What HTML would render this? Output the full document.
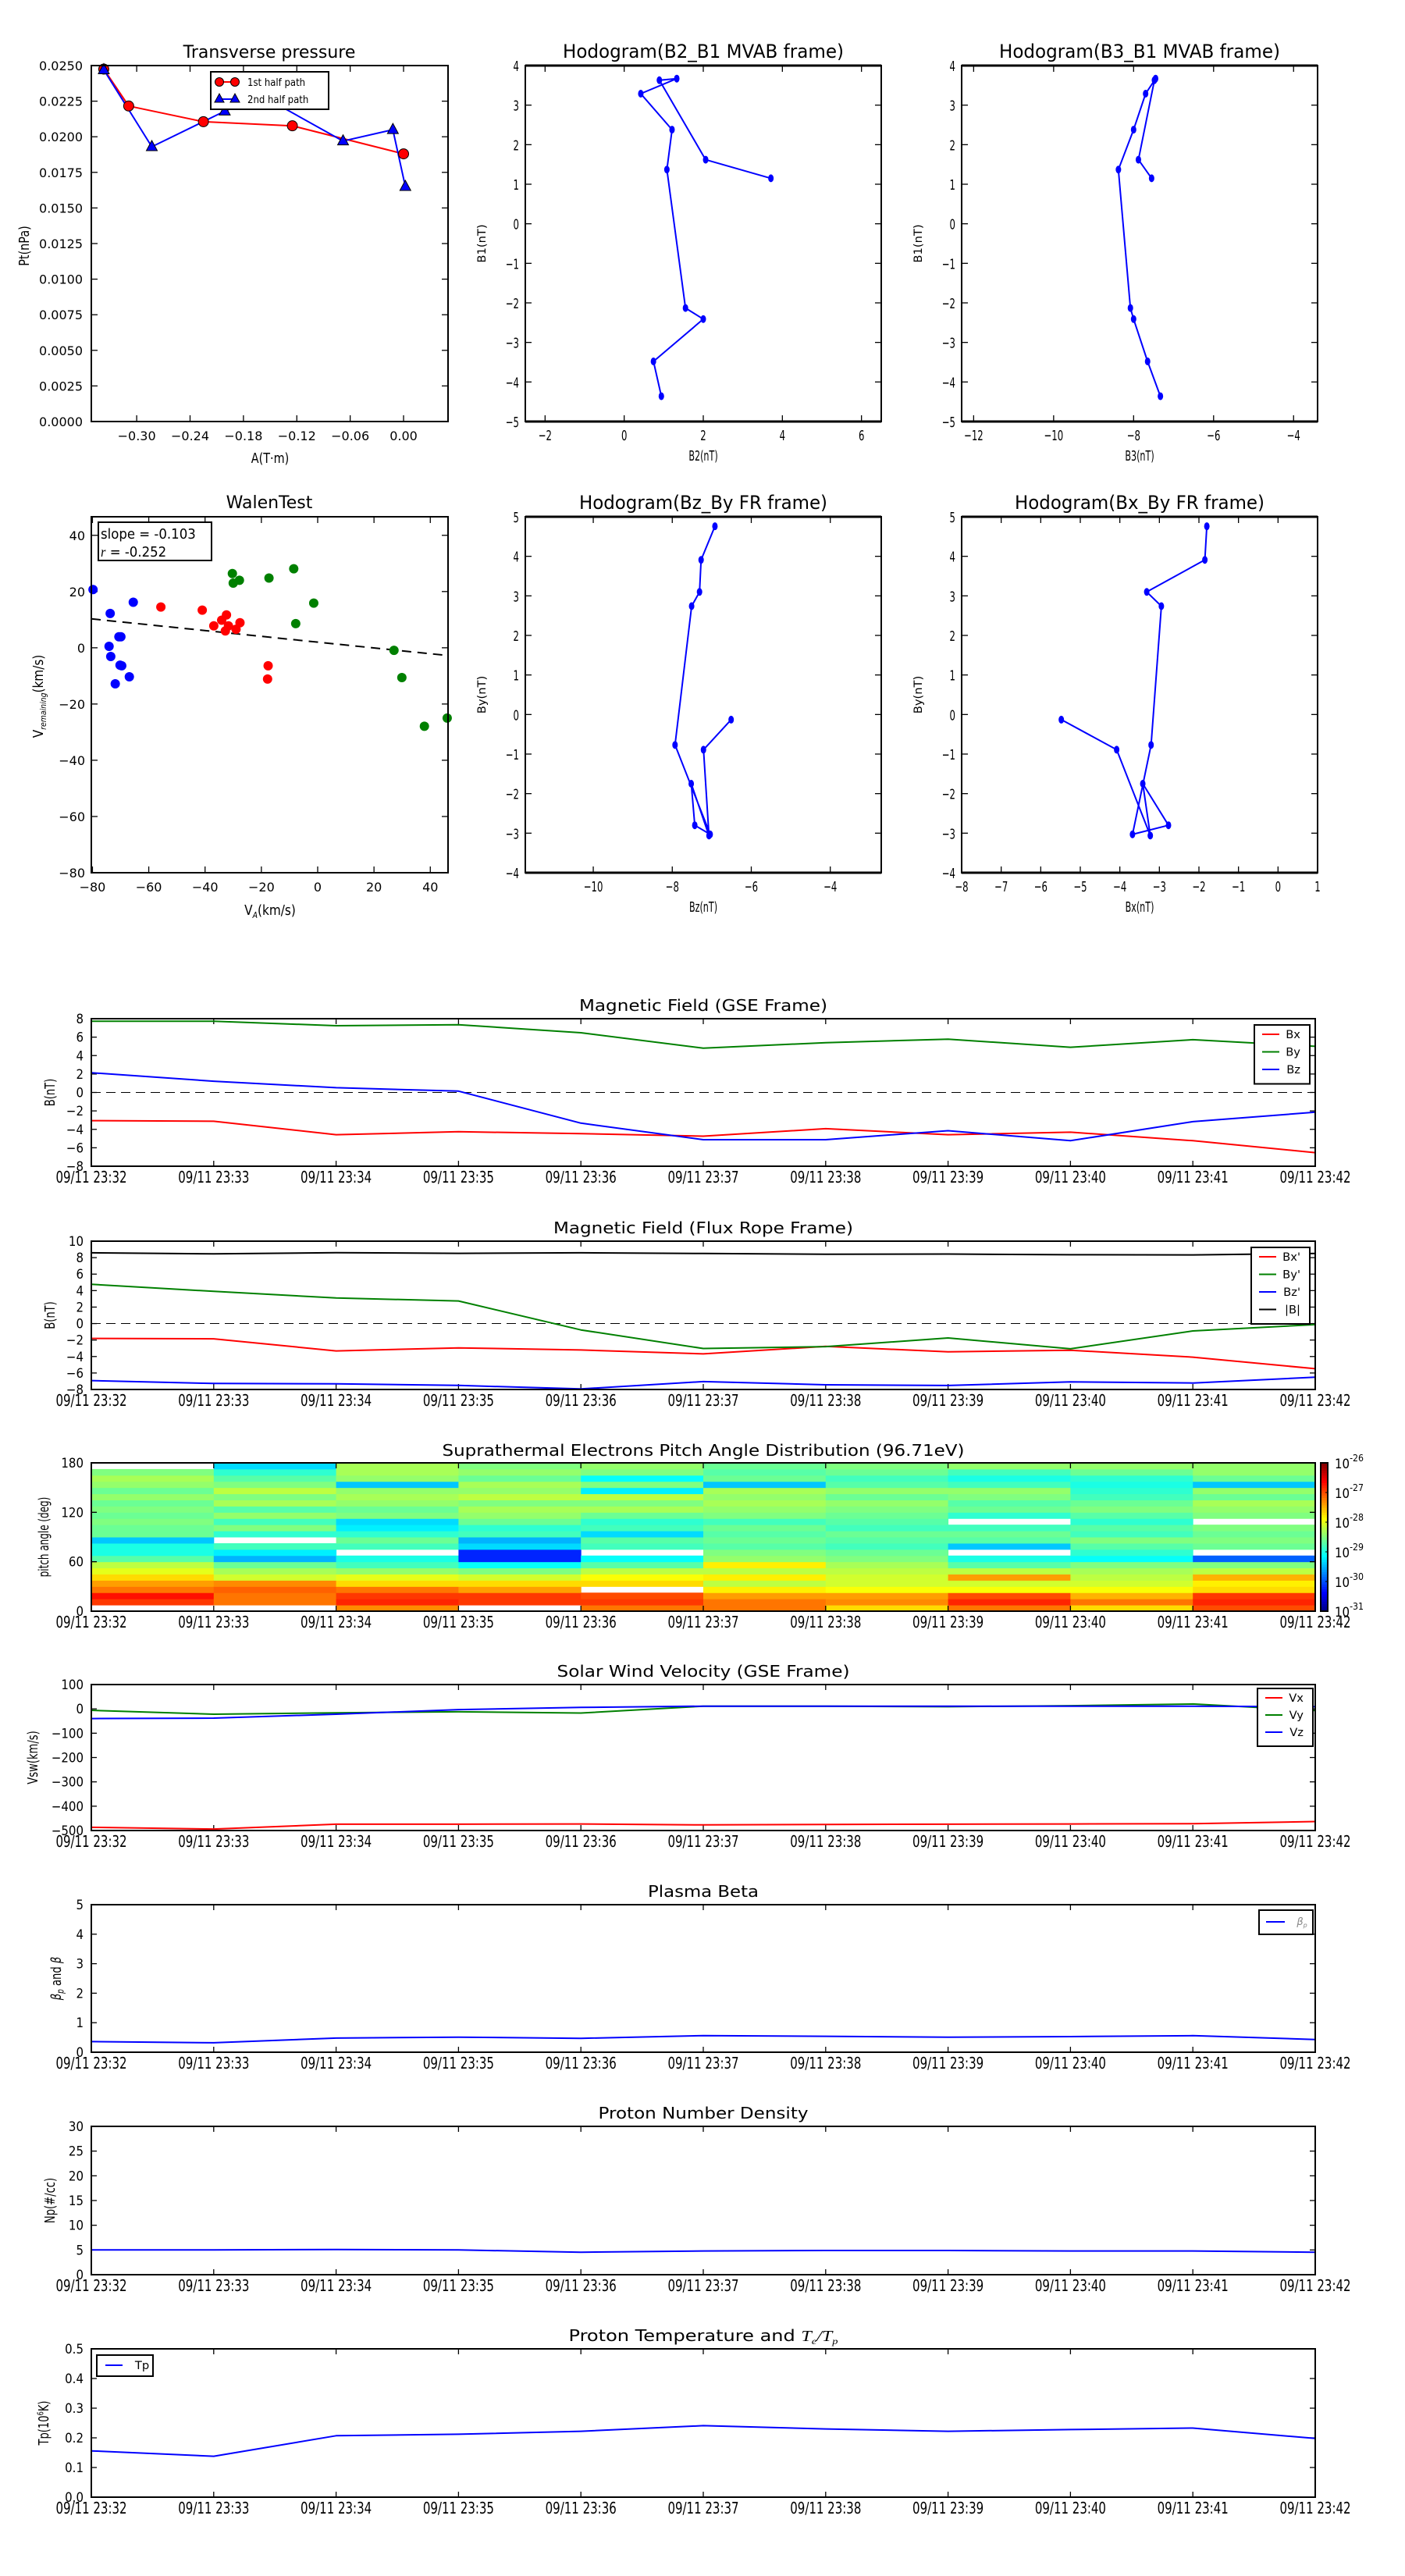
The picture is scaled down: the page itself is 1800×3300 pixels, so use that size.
<!DOCTYPE html>
<html><head><meta charset="utf-8"><style>
html,body{margin:0;padding:0;background:#fff;}
svg{display:block;font-family:"DejaVu Sans","Liberation Sans",sans-serif;}
</style></head><body>
<svg id="chart" xmlns="http://www.w3.org/2000/svg" width="1800" height="3300" viewBox="0 0 1800 3300"></svg>
<script>
// ---------------- data ----------------
const timeLabels=['09/11 23:32','09/11 23:33','09/11 23:34','09/11 23:35','09/11 23:36','09/11 23:37','09/11 23:38','09/11 23:39','09/11 23:40','09/11 23:41','09/11 23:42'];
const tpHalf1A=[-0.337,-0.309,-0.225,-0.125,0.0];
const tpHalf1P=[0.02475,0.02216,0.02106,0.02077,0.0188];
const tpHalf2A=[-0.337,-0.283,-0.201,-0.160,-0.068,-0.012,0.002];
const tpHalf2P=[0.0247,0.0193,0.0218,0.0229,0.0197,0.0205,0.0165];
const mvB1=[1.15,1.62,3.63,3.67,3.29,2.38,1.37,-2.13,-2.41,-3.48,-4.36];
const mvB2=[3.71,2.06,0.89,1.33,0.42,1.21,1.08,1.55,2.00,0.74,0.94];
const mvB3=[-7.55,-7.88,-7.48,-7.45,-7.70,-8.00,-8.38,-8.08,-8.00,-7.65,-7.33];
const walenBlueX=[-79.8,-65.5,-73.7,-69.9,-70.6,-74.1,-73.5,-70.2,-69.6,-66.9,-71.9];
const walenBlueY=[20.7,16.2,12.2,3.9,3.9,0.5,-3.1,-6.2,-6.4,-10.3,-12.8];
const walenRedX=[-55.7,-41.0,-32.4,-34.1,-36.9,-31.7,-27.6,-29.0,-32.8,-17.6,-17.8];
const walenRedY=[14.5,13.4,11.7,9.8,7.8,7.8,8.9,6.6,6.0,-6.4,-11.1];
const walenGreenX=[-30.3,-30.0,-27.8,-17.3,-8.5,-1.4,-7.8,27.1,29.9,37.9,46.0];
const walenGreenY=[26.4,23.0,24.0,24.8,28.1,15.9,8.6,-0.9,-10.6,-27.9,-25.0];
const walenSlope=-0.103;
const walenIntercept=2.0;
const gseBx=[-3.06,-3.12,-4.58,-4.26,-4.47,-4.74,-3.93,-4.58,-4.31,-5.23,-6.53];
const gseBy=[7.73,7.73,7.24,7.35,6.48,4.80,5.40,5.78,4.90,5.72,5.00];
const gseBz=[2.14,1.22,0.52,0.14,-3.33,-5.12,-5.12,-4.15,-5.23,-3.17,-2.14];
const frBx=[-1.80,-1.85,-3.32,-2.95,-3.21,-3.68,-2.77,-3.42,-3.23,-4.08,-5.48];
const frBy=[4.76,3.91,3.10,2.74,-0.77,-3.03,-2.80,-1.75,-3.06,-0.89,-0.13];
const frBz=[-6.92,-7.27,-7.31,-7.51,-7.93,-7.04,-7.43,-7.52,-7.07,-7.21,-6.51];
const frBmag=[8.59,8.46,8.61,8.52,8.59,8.50,8.41,8.44,8.35,8.33,8.51];
const vx=[-487,-494,-474,-474,-473,-477,-475,-474,-473,-472,-463];
const vy=[-6,-22,-16,-12,-17,11,11,9,13,20,-7];
const vz=[-40,-38,-22,-3,6,11,11,11,11,11,9];
const betaP=[0.36,0.32,0.48,0.51,0.47,0.56,0.54,0.51,0.53,0.56,0.43];
const np=[5.0,5.0,5.1,5.0,4.55,4.8,4.9,4.9,4.8,4.8,4.55];
const tp=[0.156,0.138,0.207,0.212,0.222,0.241,0.23,0.222,0.228,0.233,0.198];
// pitch angle log10 flux, each column = one minute, rows from 0deg to 180deg (7.5deg bins)
const padCol0=[null,-26.7,-26.5,-27.0,-27.2,-27.5,-27.8,-28.0,-28.5,-28.8,-28.8,-29.2,-28.4,-28.4,-28.3,-28.4,-28.3,-28.4,-28.2,-28.4,-28.2,-28.1,-28.3,null];
const padCol1=[null,-27.0,-27.0,-26.9,-27.1,-27.9,-28.1,-28.4,-29.3,-29.0,-28.6,null,-28.7,-28.3,-28.6,-28.2,-28.5,-28.1,-28.3,-28.0,-28.3,-28.5,-28.7,-29.1];
const padCol2=[-27.1,-26.6,-26.7,-27.0,-27.5,-27.8,-28.2,-28.6,-28.8,null,-28.6,-28.4,-28.7,-29.0,-29.1,-28.3,-28.4,-28.2,-28.1,-28.2,-29.2,-28.2,-28.1,-28.1];
const padCol3=[null,-26.7,-26.7,-27.2,-27.5,-27.9,-28.3,-28.9,-30.0,-30.0,-29.1,-29.3,-28.6,-28.7,-28.4,-28.2,-28.1,-28.3,-28.0,-28.2,-28.1,-28.4,-28.2,-28.3];
const padCol4=[-27.0,-26.7,-26.8,null,-27.5,-27.7,-28.0,-28.5,-28.9,null,-28.6,-28.5,-29.1,-28.6,-28.7,-28.4,-28.1,-28.3,-28.0,-29.0,-28.3,-28.9,-28.3,-28.2];
const padCol5=[-27.0,-27.0,-27.2,-27.6,-28.0,-27.6,-28.0,-27.6,-28.2,-28.3,-28.5,-28.4,-28.5,-28.4,-28.6,-28.3,-28.2,-28.1,-28.2,-28.1,-29.2,-28.4,-28.5,-28.4];
const padCol6=[-27.5,-27.1,-27.2,-27.7,-27.9,-27.9,-28.0,-28.1,-28.3,-28.4,-28.6,-28.5,-28.4,-28.6,-28.5,-28.4,-28.3,-28.2,-28.4,-28.2,-28.5,-28.6,-28.4,-28.3];
const padCol7=[-27.0,-26.6,-26.8,-27.7,-27.9,-27.2,-28.0,-28.5,-28.8,null,-29.2,-28.5,-28.4,-28.6,null,-28.7,-28.4,-28.5,-28.3,-28.2,-28.6,-28.8,-28.6,-28.2];
const padCol8=[-27.5,-27.0,-27.3,-27.7,-27.9,-28.0,-28.1,-28.3,-28.9,-28.7,-28.5,-28.3,-28.6,-28.5,-28.7,-28.5,-28.3,-28.4,-28.6,-28.7,-28.8,-28.7,-28.4,-28.2];
const padCol9=[-26.8,-26.6,-26.7,-27.5,-27.6,-27.3,-28.0,-28.3,-29.7,null,-28.4,-28.3,-28.4,-28.3,null,-28.3,-28.2,-28.1,-28.4,-28.2,-29.2,-28.4,-28.2,-28.2];
const padColumns=[padCol0,padCol1,padCol2,padCol3,padCol4,padCol5,padCol6,padCol7,padCol8,padCol9];
const cbarTicks=[-26,-27,-28,-29,-30,-31];

// ---------------- helpers ----------------
const NS='http://www.w3.org/2000/svg';
const svg=document.getElementById('chart');
function mk(tag,attrs,name,inter,parent){
  const e=document.createElementNS(NS,tag);
  for(const k in attrs) e.setAttribute(k,attrs[k]);
  
  
  (parent||svg).appendChild(e);
  return e;
}
function lin(d0,d1,r0,r1){return v=>r0+(v-d0)/(d1-d0)*(r1-r0);}
function T(x,y,html,o){
  o=Object.assign({size:16,anchor:'middle',sx:1,sy:1,rot:0,fill:'#000',name:'label',style:'normal'},o||{});
  const e=mk('text',{x:0,y:0,'font-size':o.size,'text-anchor':o.anchor,fill:o.fill,'font-style':o.style,
    transform:`translate(${x},${y}) rotate(${o.rot}) scale(${o.sx},${o.sy})`},o.name,false);
  if(o.tl){e.setAttribute('textLength',o.tl);e.setAttribute('lengthAdjust','spacingAndGlyphs');}
  e.innerHTML=html;
  return e;
}
function line(x1,y1,x2,y2,stroke,w,name,dash){
  const a={x1,y1,x2,y2,stroke,'stroke-width':w};
  if(dash)a['stroke-dasharray']=dash;
  return mk('line',a,name,false);
}
function poly(xs,ys,sx,sy,color,w,name,dash){
  const pts=xs.map((v,i)=>sx(v).toFixed(1)+','+sy(ys[i]).toFixed(1)).join(' ');
  const a={points:pts,fill:'none',stroke:color,'stroke-width':w,'stroke-linejoin':'round'};
  if(dash)a['stroke-dasharray']=dash;
  return mk('polyline',a,name,false);
}
function frame(x0,y0,x1,y1,name,w){
  return mk('rect',{x:x0,y:y0,width:x1-x0,height:y1-y0,fill:'none',stroke:'#000','stroke-width':w||2},name,false);
}
function ticksX(pxs,y0,y1,len){pxs.forEach(p=>{line(p,y1,p,y1-len,'#000',1.3,'x-tick');line(p,y0,p,y0+len,'#000',1.3,'x-tick-top');});}
function ticksY(pys,x0,x1,len){pys.forEach(p=>{line(x0,p,x0+len,p,'#000',1.3,'y-tick');line(x1,p,x1-len,p,'#000',1.3,'y-tick-right');});}
const MINUS='\u2212';
function fmt(v,d){const s=Math.abs(v).toFixed(d);return (v<0?MINUS:'')+s;}
function jet(v){
  v=Math.max(0,Math.min(1,v));
  const c=x=>Math.round(255*Math.max(0,Math.min(1,1.5-Math.abs(x))));
  return `rgb(${c(4*v-3)},${c(4*v-2)},${c(4*v-1)})`;
}

// ---------------- Transverse pressure ----------------
(function(){
  const x0=117,x1=574,y0=84,y1=540;
  const sx=lin(-0.351,0.05,x0,x1), sy=lin(0,0.025,y1,y0);
  T(345,74,'Transverse pressure',{size:22,name:'transverse-pressure-title'});
  const xt=[-0.30,-0.24,-0.18,-0.12,-0.06,0.0];
  ticksX(xt.map(sx),y0,y1,8);
  xt.forEach(v=>T(sx(v),564,fmt(v,2),{size:16,name:'x-tick-label'}));
  const yt=[0,0.0025,0.005,0.0075,0.01,0.0125,0.015,0.0175,0.02,0.0225,0.025];
  ticksY(yt.map(sy),x0,x1,8);
  yt.forEach(v=>T(106,sy(v)+6,v.toFixed(4),{size:16,anchor:'end',name:'y-tick-label'}));
  T(346,593,'A(T·m)',{size:18,sx:0.8,name:'x-axis-title'});
  T(37,315,'Pt(nPa)',{size:18,rot:-90,sx:0.8,name:'y-axis-title'});
  poly(tpHalf1A,tpHalf1P,sx,sy,'#f00',2,'first-half-line');
  poly(tpHalf2A,tpHalf2P,sx,sy,'#00f',2,'second-half-line');
  tpHalf1A.forEach((a,i)=>mk('circle',{cx:sx(a),cy:sy(tpHalf1P[i]),r:6.5,fill:'#f00',stroke:'#000','stroke-width':1},'first-half-marker',false));
  tpHalf2A.forEach((a,i)=>{const cx=sx(a),cy=sy(tpHalf2P[i]);
    mk('polygon',{points:`${cx},${cy-8} ${cx-7},${cy+5} ${cx+7},${cy+5}`,fill:'#00f',stroke:'#000','stroke-width':1},'second-half-marker',false);});
  const lg=mk('g',{},'legend',false);
  mk('rect',{x:270,y:92,width:151,height:48,fill:'#fff',stroke:'#000','stroke-width':2},'legend-box',false,lg);
  line(281,105,301,105,'#f00',2,'legend-line-first');
  mk('circle',{cx:281,cy:105,r:5.5,fill:'#f00',stroke:'#000','stroke-width':1},'legend-marker-first',false);
  mk('circle',{cx:301,cy:105,r:5.5,fill:'#f00',stroke:'#000','stroke-width':1},'legend-marker-first',false);
  T(317,110,'1st half path',{size:13,anchor:'start',sx:0.9,name:'legend-label-first'});
  line(281,127,301,127,'#00f',2,'legend-line-second');
  [281,301].forEach(cx=>mk('polygon',{points:`${cx},${120} ${cx-6},${131} ${cx+6},${131}`,fill:'#00f',stroke:'#000','stroke-width':1},'legend-marker-second',false));
  T(317,132,'2nd half path',{size:13,anchor:'start',sx:0.9,name:'legend-label-second'});
  frame(x0,y0,x1,y1,'transverse-pressure-axes',2);
})();

// ---------------- hodogram helper ----------------
function hodo(o){
  const {x0,x1,y0,y1,xlim,ylim,xt,yt,xs,ys,title,titleW,xlab,ylab,name}=o;
  const sx=lin(xlim[0],xlim[1],x0,x1), sy=lin(ylim[0],ylim[1],y1,y0);
  T((x0+x1)/2,y0-10,title,{size:24,tl:titleW,name:name+'-title'});
  ticksX(xt.map(sx),y0,y1,8);
  xt.forEach(v=>T(sx(v),y1+24,fmt(v,0),{size:18,sx:0.65,name:'x-tick-label'}));
  ticksY(yt.map(sy),x0,x1,8);
  yt.forEach(v=>T(x0-8,sy(v)+7,fmt(v,0),{size:18,sx:0.65,anchor:'end',name:'y-tick-label'}));
  T((x0+x1)/2,y1+50,xlab,{size:18,sx:0.62,name:name+'-x-axis-title'});
  T(x0-51,(y0+y1)/2,ylab,{size:14,rot:-90,sx:1.05,name:name+'-y-axis-title'});
  poly(xs,ys,sx,sy,'#00f',2,name+'-path');
  xs.forEach((v,i)=>mk('ellipse',{cx:sx(v),cy:sy(ys[i]),rx:3.5,ry:5,fill:'#00f'},name+'-point',false));
  mk('rect',{x:x0,y:y0,width:x1-x0,height:y1-y0,fill:'none',stroke:'#000','stroke-width':2},name+'-axes',false);
  line(x0,y0,x1,y0,'#000',3,name+'-top-spine');
  line(x0,y1,x1,y1,'#000',3,name+'-bottom-spine');
}
hodo({x0:673,x1:1129,y0:84,y1:540,xlim:[-2.5,6.5],ylim:[-5,4],xt:[-2,0,2,4,6],yt:[-5,-4,-3,-2,-1,0,1,2,3,4],
  xs:mvB2,ys:mvB1,title:'Hodogram(B2_B1 MVAB frame)',titleW:360,xlab:'B2(nT)',ylab:'B1(nT)',name:'hodogram-b2-b1'});
hodo({x0:1232,x1:1688,y0:84,y1:540,xlim:[-12.3,-3.4],ylim:[-5,4],xt:[-12,-10,-8,-6,-4],yt:[-5,-4,-3,-2,-1,0,1,2,3,4],
  xs:mvB3,ys:mvB1,title:'Hodogram(B3_B1 MVAB frame)',titleW:360,xlab:'B3(nT)',ylab:'B1(nT)',name:'hodogram-b3-b1'});
hodo({x0:673,x1:1129,y0:662,y1:1118,xlim:[-11.72,-2.71],ylim:[-4,5],xt:[-10,-8,-6,-4],yt:[-4,-3,-2,-1,0,1,2,3,4,5],
  xs:frBz,ys:frBy,title:'Hodogram(Bz_By FR frame)',titleW:318,xlab:'Bz(nT)',ylab:'By(nT)',name:'hodogram-bz-by'});
hodo({x0:1232,x1:1688,y0:662,y1:1118,xlim:[-8,1],ylim:[-4,5],xt:[-8,-7,-6,-5,-4,-3,-2,-1,0,1],yt:[-4,-3,-2,-1,0,1,2,3,4,5],
  xs:frBx,ys:frBy,title:'Hodogram(Bx_By FR frame)',titleW:320,xlab:'Bx(nT)',ylab:'By(nT)',name:'hodogram-bx-by'});

// ---------------- Walen test ----------------
(function(){
  const x0=117,x1=574,y0=662,y1=1118;
  const sx=lin(-80.4,46.3,x0,x1), sy=lin(-80,46.6,y1,y0);
  T(345,651,'WalenTest',{size:22,name:'walen-test-title'});
  const xt=[-80,-60,-40,-20,0,20,40];
  ticksX(xt.map(sx),y0,y1,8);
  xt.forEach(v=>T(sx(v),y1+24,fmt(v,0),{size:16,name:'x-tick-label'}));
  const yt=[-80,-60,-40,-20,0,20,40];
  ticksY(yt.map(sy),x0,x1,8);
  yt.forEach(v=>T(109,sy(v)+6,fmt(v,0),{size:16,anchor:'end',name:'y-tick-label'}));
  T(346,1172,'V<tspan font-size="11" font-style="italic" dy="4">A</tspan><tspan dy="-4">(km/s)</tspan>',{size:18,sx:0.85,name:'x-axis-title'});
  T(55,892,'V<tspan font-size="11" font-style="italic" dy="4">remaining</tspan><tspan dy="-4">(km/s)</tspan>',{size:18,rot:-90,sx:0.85,name:'y-axis-title'});
  const fx=[-80.4,46.3];
  poly(fx,fx.map(v=>walenSlope*v+walenIntercept),sx,sy,'#000',2,'fit-line','12,8');
  const grp=(xs,ys,c,n)=>xs.forEach((v,i)=>mk('circle',{cx:sx(v),cy:sy(ys[i]),r:6,fill:c},n,false));
  grp(walenBlueX,walenBlueY,'#00f','walen-point-blue');
  grp(walenRedX,walenRedY,'#f00','walen-point-red');
  grp(walenGreenX,walenGreenY,'#008000','walen-point-green');
  mk('rect',{x:126,y:669,width:145,height:49,fill:'#fff',stroke:'#000','stroke-width':2},'stats-box',false);
  T(129,690,'slope = -0.103',{size:18,anchor:'start',sx:0.92,name:'slope-text'});
  T(129,713,'<tspan font-style="italic" font-family="Liberation Serif">r</tspan> = -0.252',{size:18,anchor:'start',sx:0.92,name:'r-text'});
  frame(x0,y0,x1,y1,'walen-axes',2);
})();

// ---------------- time series panels ----------------
const TX0=117, TX1=1685;
const tx=lin(0,10,TX0,TX1);
const idx=timeLabels.map((_,i)=>i);
function tsPanel(o){
  const {top,bot,ylim,yt,ydec,title,titleW,ylab,ylabX,name}=o;
  const sy=lin(ylim[0],ylim[1],bot,top);
  T((TX0+TX1)/2,top-10,title,{size:20,tl:titleW,name:name+'-title'});
  ticksX(idx.map(tx),top,bot,7);
  idx.forEach(i=>T(tx(i),bot+21,timeLabels[i],{size:15,sy:1.35,name:'time-tick-label'}));
  ticksY(yt.map(sy),TX0,TX1,7);
  yt.forEach(v=>T(107,sy(v)+6,fmt(v,ydec||0),{size:15,sy:1.15,anchor:'end',name:'y-tick-label'}));
  T(ylabX,(top+bot)/2,ylab,{size:16,rot:-90,sx:0.82,sy:1.1,name:name+'-y-axis-title'});
  return sy;
}
function legend(x,y,w,rowH,entries,name){
  const g=mk('g',{},name,false);
  mk('rect',{x,y,width:w,height:rowH*entries.length+8,fill:'#fff',stroke:'#000','stroke-width':2},name+'-box',false,g);
  entries.forEach((e,i)=>{const cy=y+12+i*rowH;
    line(x+10,cy,x+32,cy,e[1],2,name+'-line');
    T(x+w-12,cy+5,e[0],{size:14,anchor:'end',sx:1.05,fill:e[2]||'#000',style:e[3]||'normal',name:name+'-entry'});});
}
(function(){
  const sy=tsPanel({top:1305,bot:1494,ylim:[-8,8],yt:[-8,-6,-4,-2,0,2,4,6,8],title:'Magnetic Field (GSE Frame)',titleW:318,ylab:'B(nT)',ylabX:70,name:'gse-field'});
  line(TX0,sy(0),TX1,sy(0),'#000',1,'zero-line','12,7');
  poly(idx,gseBx,tx,sy,'#f00',2,'gse-bx-line');
  poly(idx,gseBy,tx,sy,'#008000',2,'gse-by-line');
  poly(idx,gseBz,tx,sy,'#00f',2,'gse-bz-line');
  legend(1607,1313,71,22.5,[['Bx','#f00'],['By','#008000'],['Bz','#00f']],'gse-legend');
  frame(TX0,1305,TX1,1494,'gse-axes',2);
})();
(function(){
  const sy=tsPanel({top:1590,bot:1780,ylim:[-8,10],yt:[-8,-6,-4,-2,0,2,4,6,8,10],title:'Magnetic Field (Flux Rope Frame)',titleW:384,ylab:'B(nT)',ylabX:70,name:'fr-field'});
  line(TX0,sy(0),TX1,sy(0),'#000',1,'zero-line','12,7');
  poly(idx,frBx,tx,sy,'#f00',2,'fr-bx-line');
  poly(idx,frBy,tx,sy,'#008000',2,'fr-by-line');
  poly(idx,frBz,tx,sy,'#00f',2,'fr-bz-line');
  poly(idx,frBmag,tx,sy,'#000',2,'fr-bmag-line');
  legend(1603,1598,75,22.5,[["Bx'",'#f00'],["By'",'#008000'],["Bz'",'#00f'],['|B|','#000']],'fr-legend');
  frame(TX0,1590,TX1,1780,'fr-axes',2);
})();
(function(){
  const top=1874,bot=2064;
  const sy=lin(0,180,bot,top);
  T((TX0+TX1)/2,top-9,'Suprathermal Electrons Pitch Angle Distribution (96.71eV)',{size:20,tl:669,name:'pad-title'});
  padColumns.forEach((col,c)=>{col.forEach((v,r)=>{
    if(v===null)return;
    const ya=sy((r+1)*7.5), yb=sy(r*7.5);
    mk('rect',{x:tx(c),y:ya,width:tx(c+1)-tx(c)+0.5,height:yb-ya+0.5,fill:jet((v+30.8)/5)},'pad-cell',false);
  });});
  ticksX(idx.map(tx),top,bot,7);
  idx.forEach(i=>T(tx(i),bot+21,timeLabels[i],{size:15,sy:1.35,name:'time-tick-label'}));
  const yt=[0,60,120,180];
  ticksY(yt.map(sy),TX0,TX1,7);
  yt.forEach(v=>T(107,sy(v)+6,String(v),{size:15,sy:1.15,anchor:'end',name:'y-tick-label'}));
  T(62,(top+bot)/2,'pitch angle (deg)',{size:16,rot:-90,sx:0.75,sy:1.1,name:'pad-y-axis-title'});
  frame(TX0,top,TX1,bot,'pad-axes',2);
  const cx0=1692,cx1=1701,N=60;
  for(let i=0;i<N;i++){const yA=bot-(i+1)*(bot-top)/N;
    mk('rect',{x:cx0,y:yA,width:cx1-cx0,height:(bot-top)/N+0.6,fill:jet((i+0.5)/N)},'colorbar-segment',false);}
  mk('rect',{x:cx0,y:top,width:cx1-cx0,height:bot-top,fill:'none',stroke:'#000','stroke-width':2},'colorbar',false);
  const cy=lin(-31,-26,bot,top);
  cbarTicks.forEach(v=>{line(cx1-3,cy(v),cx1,cy(v),'#000',1,'colorbar-tick');
    T(1710,cy(v)+7,'10<tspan font-size="11" dy="-8">'+v+'</tspan>',{size:15,anchor:'start',sy:1.1,name:'colorbar-tick-label'});});
})();
(function(){
  const top=2158,bot=2345;
  const sy=tsPanel({top,bot,ylim:[-500,100],yt:[-500,-400,-300,-200,-100,0,100],title:'Solar Wind Velocity (GSE Frame)',titleW:375,ylab:'Vsw(km/s)',ylabX:48,name:'velocity'});
  poly(idx,vx,tx,sy,'#f00',2,'vx-line');
  poly(idx,vy,tx,sy,'#008000',2,'vy-line');
  poly(idx,vz,tx,sy,'#00f',2,'vz-line');
  legend(1611,2163,71,22,[['Vx','#f00'],['Vy','#008000'],['Vz','#00f']],'velocity-legend');
  frame(TX0,top,TX1,bot,'velocity-axes',2);
})();
(function(){
  const top=2440,bot=2629;
  const sy=tsPanel({top,bot,ylim:[0,5],yt:[0,1,2,3,4,5],title:'Plasma Beta',titleW:142,ylab:'<tspan font-style="italic">β<tspan font-size="11" dy="3">p</tspan></tspan><tspan dy="-3"> and </tspan><tspan font-style="italic">β</tspan>',ylabX:78,name:'beta'});
  poly(idx,betaP,tx,sy,'#00f',2,'beta-p-line');
  mk('rect',{x:1613,y:2447,width:69,height:31,fill:'#fff',stroke:'#000','stroke-width':2},'beta-legend-box',false);
  line(1622,2462,1646,2462,'#00f',2,'beta-legend-line');
  T(1668,2466,'β<tspan font-size="8" dy="3">p</tspan>',{size:13,style:'italic',fill:'#888',name:'beta-legend-entry'});
  frame(TX0,top,TX1,bot,'beta-axes',2);
})();
(function(){
  const top=2724,bot=2914;
  const sy=tsPanel({top,bot,ylim:[0,30],yt:[0,5,10,15,20,25,30],title:'Proton Number Density',titleW:269,ylab:'Np(#/cc)',ylabX:70,name:'density'});
  poly(idx,np,tx,sy,'#00f',2,'np-line');
  frame(TX0,top,TX1,bot,'density-axes',2);
})();
(function(){
  const top=3009,bot=3199;
  const sy=tsPanel({top,bot,ylim:[0,0.5],yt:[0,0.1,0.2,0.3,0.4,0.5],ydec:1,title:'Proton Temperature and <tspan font-style="italic" font-family="Liberation Serif">T<tspan font-size="12" dy="4">e</tspan><tspan dy="-4">/T</tspan><tspan font-size="12" dy="4">p</tspan></tspan>',titleW:345,ylab:'Tp(10<tspan font-size="10" dy="-6">6</tspan><tspan dy="6">K)</tspan>',ylabX:62,name:'temperature'});
  poly(idx,tp,tx,sy,'#00f',2,'tp-line');
  mk('rect',{x:124,y:3017,width:72,height:27,fill:'#fff',stroke:'#000','stroke-width':2},'tp-legend-box',false);
  line(135,3030,157,3030,'#00f',2,'tp-legend-line');
  T(182,3035,'Tp',{size:14,sx:1.05,name:'tp-legend-entry'});
  frame(TX0,top,TX1,bot,'temperature-axes',2);
})();
</script>
</body></html>
